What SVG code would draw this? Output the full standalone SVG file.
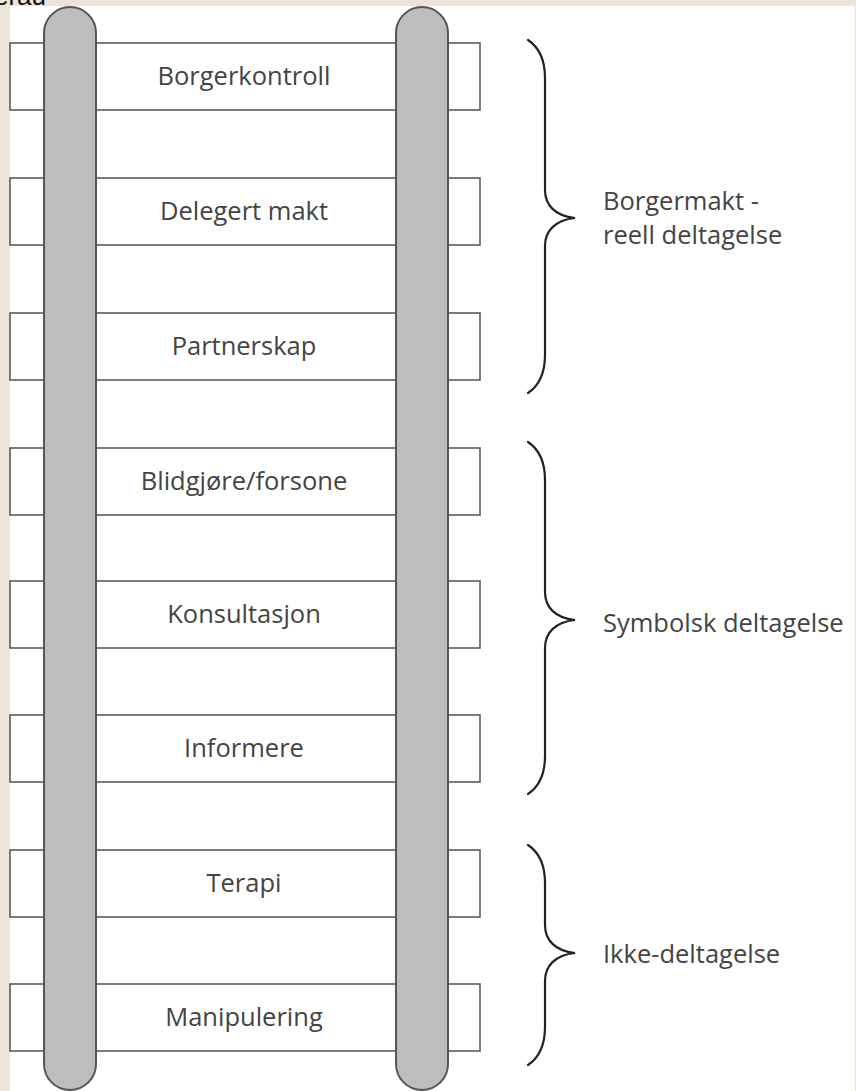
<svg xmlns="http://www.w3.org/2000/svg" width="856" height="1091" viewBox="0 0 856 1091">
<style>
.rung{fill:#fff;stroke:#5a5a5a;stroke-width:1.6}
.rail{fill:#bdbdbd;stroke:#555;stroke-width:2}
.lbl{font-family:"Open Sans","Noto Sans",sans-serif;font-size:25.5px;fill:#444;text-anchor:middle}
.side{font-family:"Open Sans","Noto Sans",sans-serif;font-size:25.5px;fill:#444}
.brace{fill:none;stroke:#222;stroke-width:2.2;stroke-linecap:round}
</style>
<rect x="0" y="0" width="856" height="1091" fill="#ebe5d7"/>
<text x="-6" y="5" font-family="Liberation Sans,sans-serif" font-size="26" fill="#111">erau</text>
<rect x="10" y="6" width="845" height="1085" fill="#fff"/>
<g id="rungs">
<g id="r1"><rect class="rung" x="10" y="43" width="470" height="67"/><text class="lbl" x="244" y="85">Borgerkontroll</text></g>
<g id="r2"><rect class="rung" x="10" y="178" width="470" height="67"/><text class="lbl" x="244" y="220">Delegert makt</text></g>
<g id="r3"><rect class="rung" x="10" y="313" width="470" height="67"/><text class="lbl" x="244" y="355">Partnerskap</text></g>
<g id="r4"><rect class="rung" x="10" y="448" width="470" height="67"/><text class="lbl" x="244" y="490">Blidgjøre/forsone</text></g>
<g id="r5"><rect class="rung" x="10" y="581" width="470" height="67"/><text class="lbl" x="244" y="623">Konsultasjon</text></g>
<g id="r6"><rect class="rung" x="10" y="715" width="470" height="67"/><text class="lbl" x="244" y="757">Informere</text></g>
<g id="r7"><rect class="rung" x="10" y="850" width="470" height="67"/><text class="lbl" x="244" y="892">Terapi</text></g>
<g id="r8"><rect class="rung" x="10" y="984" width="470" height="67"/><text class="lbl" x="244" y="1026">Manipulering</text></g>
</g>
<g id="rails">
<rect class="rail" x="44" y="7" width="52" height="1083" rx="26"/>
<rect class="rail" x="396" y="7" width="52" height="1083" rx="26"/>
</g>
<g id="connectors">
<path class="brace" d="M528,40 C540,48 545,60 545,78 L545,190 C545,205 555,216 575,218 C555,220 545,231 545,246 L545,355 C545,373 540,385 528,393"/>
<path class="brace" d="M528,442 C540,450 545,462 545,480 L545,592 C545,607 555,618 575,620 C555,622 545,633 545,648 L545,756 C545,774 540,786 528,794"/>
<path class="brace" d="M528,845 C540,853 545,865 545,883 L545,925 C545,940 555,951 575,953 C555,955 545,966 545,981 L545,1027 C545,1045 540,1057 528,1065"/>
</g>
<g id="labels">
<text class="side" x="603" y="210">Borgermakt -</text>
<text class="side" x="603" y="244">reell deltagelse</text>
<text class="side" x="603" y="632">Symbolsk deltagelse</text>
<text class="side" x="603" y="963">Ikke-deltagelse</text>
</g>
</svg>
